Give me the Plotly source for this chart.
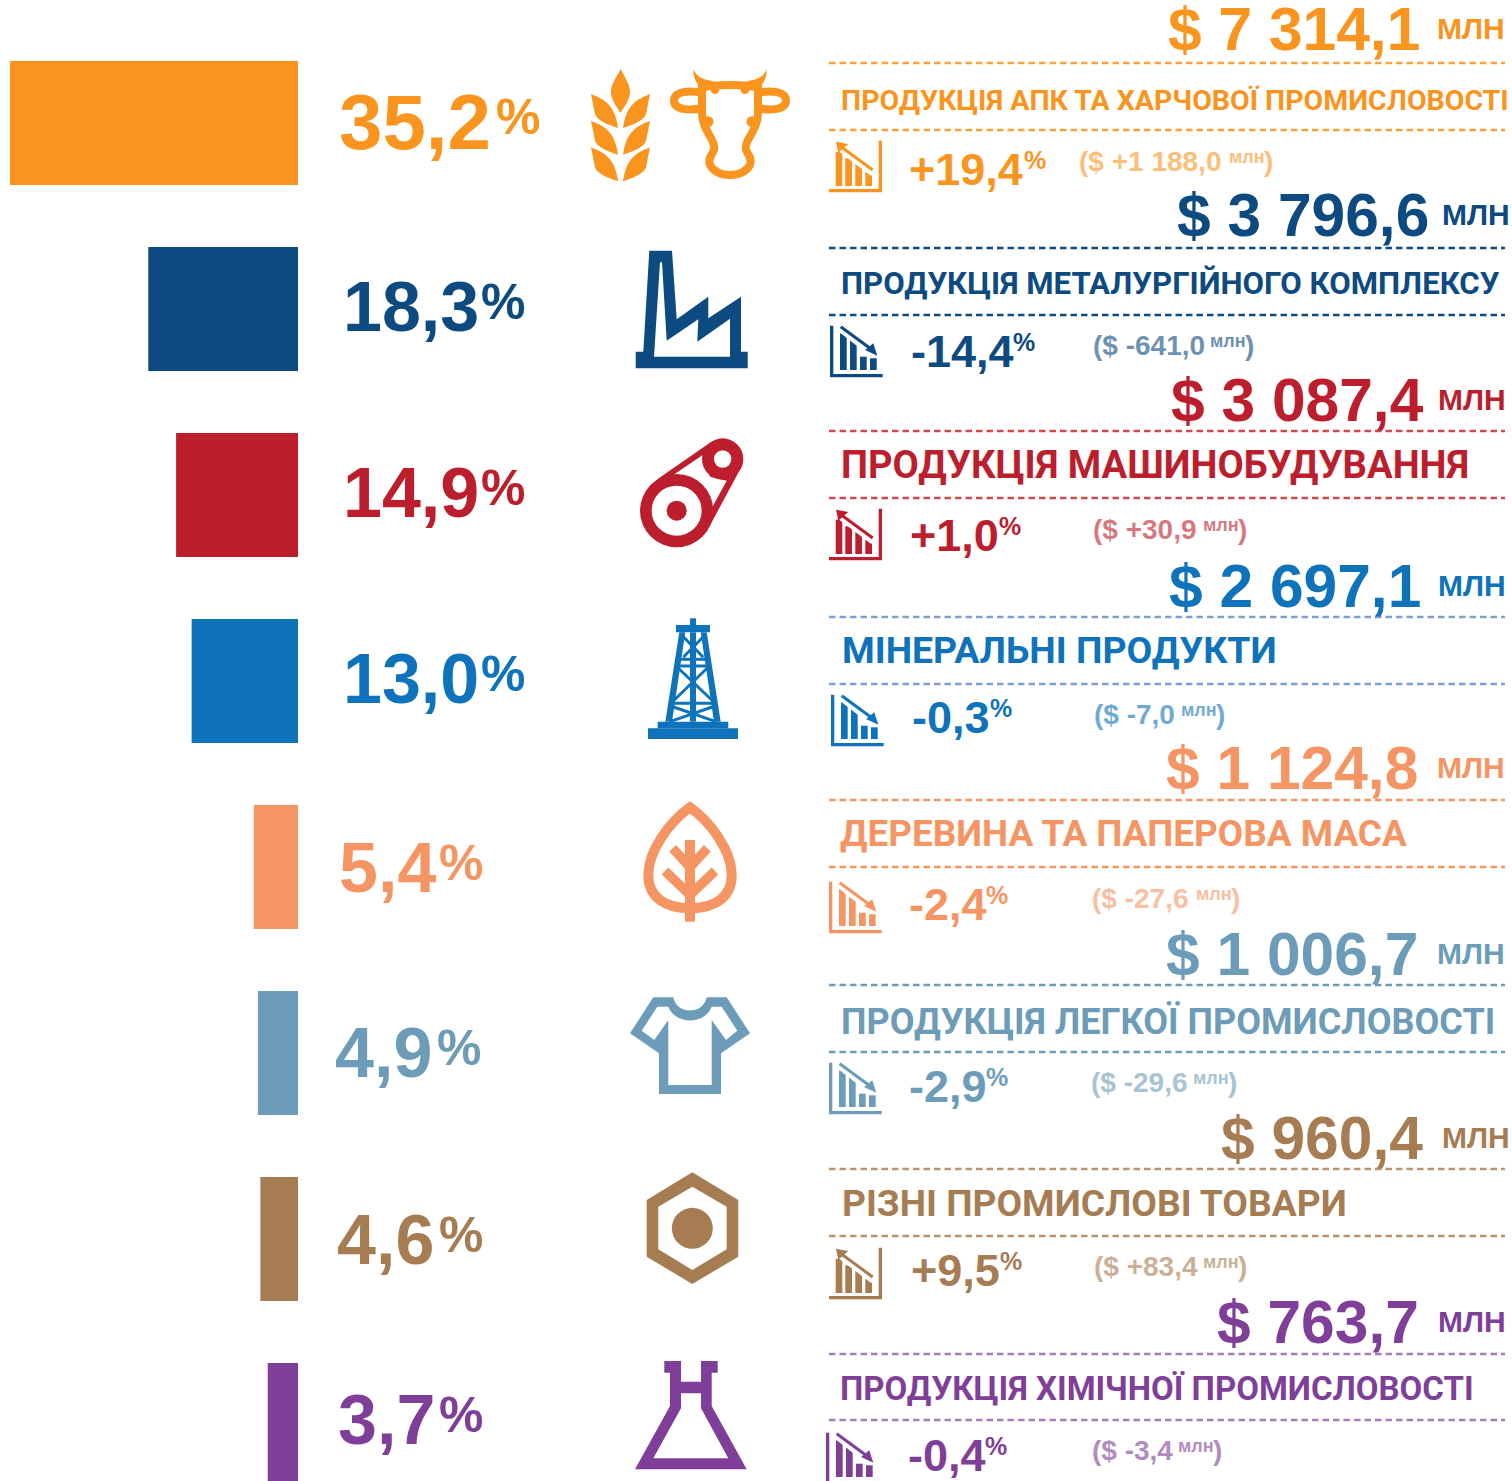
import plotly.graph_objects as go

# ---------- data ----------
titles = ["ПРОДУКЦІЯ АПК ТА ХАРЧОВОЇ ПРОМИСЛОВОСТІ", "ПРОДУКЦІЯ МЕТАЛУРГІЙНОГО КОМПЛЕКСУ",
          "ПРОДУКЦІЯ МАШИНОБУДУВАННЯ", "МІНЕРАЛЬНІ ПРОДУКТИ", "ДЕРЕВИНА ТА ПАПЕРОВА МАСА",
          "ПРОДУКЦІЯ ЛЕГКОЇ ПРОМИСЛОВОСТІ", "РІЗНІ ПРОМИСЛОВІ ТОВАРИ", "ПРОДУКЦІЯ ХІМІЧНОЇ ПРОМИСЛОВОСТІ"]
shares = [35.2, 18.3, 14.9, 13.0, 5.4, 4.9, 4.6, 3.7]
share_labels = ["35,2", "18,3", "14,9", "13,0", "5,4", "4,9", "4,6", "3,7"]
values = ["$ 7 314,1", "$ 3 796,6", "$ 3 087,4", "$ 2 697,1", "$ 1 124,8", "$ 1 006,7", "$ 960,4", "$ 763,7"]
changes = ["+19,4", "-14,4", "+1,0", "-0,3", "-2,4", "-2,9", "+9,5", "-0,4"]
deltas = ["+1 188,0", "-641,0", "+30,9", "-7,0", "-27,6", "-29,6", "+83,4", "-3,4"]

# ---------- style / layout ----------
W, H = 1512, 1481
colors = ["#F9951F", "#0C4A80", "#BC1E2D", "#0F73BB", "#F59563", "#6D9CB8", "#A67C52", "#7F3F98"]
rule_colors = ["#F9A33F", "#0C4A80", "#CF4A50", "#7E9FD4", "#F59563", "#6D9CB8", "#B8936D", "#A67DB8"]
FONT = "Liberation Sans"
TITLE_FONT = "Roboto"
share_size = [78, 70, 70, 70, 70, 70, 70, 70]
share_x = [338, 342, 342, 342, 338, 334, 336, 337]
pct_x = [495, 480, 480, 480, 438, 436, 438, 438]
share_y = [122, 307, 493, 679, 868, 1053, 1240, 1420]
value_r = [1421, 1430, 1425, 1422, 1419, 1419, 1424, 1420]
value_y = [29, 215, 400, 586, 768, 954, 1138, 1322]
mln_x = [1436, 1441, 1437, 1437, 1436, 1436, 1441, 1437]
line_y = [(63, 130), (248, 315), (431, 498), (617, 684), (800, 867), (985, 1052), (1169, 1236), (1354, 1420)]
title_x = [840, 840, 840, 841, 839, 840, 841, 839]
title_y = [100, 283, 465, 650, 833, 1022, 1203, 1388]
title_size = [28.5, 31.2, 38.2, 37.4, 36.9, 36.0, 37.2, 33.0]
change_x = [908, 910, 909, 911, 908, 908, 910, 907]
change_y = [169, 351, 535, 717, 904, 1086, 1270, 1455]
cpct_x = [1023, 1012, 998, 989, 985, 985, 999, 984]
delta_x = [1078, 1092, 1092, 1093, 1091, 1090, 1093, 1091]
delta_r = [1273, 1254, 1247, 1225, 1240, 1237, 1247, 1222]
delta_y = [161, 345, 529, 714, 898, 1082, 1266, 1450]
icon_off = [(0, 0), (0, 0), (0, 368), (1, 369), (-1, 556), (-1, 737), (0, 1107), (-4, 1107)]

shapes, annos = [], []


def px_shape(**kw):
    kw.setdefault("xref", "x2")
    kw.setdefault("yref", "y2")
    shapes.append(kw)


def path_of(pts, ox, oy, s=3.0):
    return "M" + "L".join(f"{ox + x / s:.1f},{oy + y / s:.1f}" for x, y in pts) + "Z"


def fill(d, c):
    px_shape(type="path", path=d, fillcolor=c, line=dict(width=0), fillrule="evenodd")


def stroke(d, c, w, f=None):
    px_shape(type="path", path=d, line=dict(color=c, width=w), fillcolor=f or "rgba(0,0,0,0)")


def circle(cx, cy, r, c):
    px_shape(type="circle", x0=cx - r, x1=cx + r, y0=cy - r, y1=cy + r, fillcolor=c, line=dict(width=0))


def text(x, y, s, size, c, anchor="left", family=FONT, opacity=1):
    annos.append(dict(x=x, y=y, xref="x2", yref="y2", text=s, showarrow=False, xanchor=anchor, yanchor="middle",
                      align=anchor, opacity=opacity, borderpad=0,
                      font=dict(family=family, size=size, color=c, weight=700)))


# ---------- icons ----------
def wheat(c):
    fill("M620.7,69 C616,78 611,84 611,92 C611,100 617,107 620.7,113 C624,107 630,100 630,92 C630,84 625,78 620.7,69Z", c)
    for dy in (0, 26.7, 53.3):
        fill(f"M591,{94 + dy} C606,{100 + dy} 615,{106 + dy} 618,{128 + dy} C606,{124 + dy} 597,{120 + dy} 595,{114 + dy}Z", c)
        fill(f"M650,{94 + dy} C635,{100 + dy} 626,{106 + dy} 623,{128 + dy} C635,{124 + dy} 644,{120 + dy} 646,{114 + dy}Z", c)


def cow(c):
    stroke("M702,88 C712,84 748,84 758,88 L758,113 C758,125 752,132 748,140 C745,146 745,149 747,152 "
           "C751,158 751,163 750,165 C746,172 738,175 730,175 C722,175 714,172 710,165 C709,163 709,158 713,152 "
           "C715,149 715,146 712,140 C708,132 702,125 702,113Z", c, 8)
    for cx, cy, r in [(715, 89.5, 4.5), (745, 89.5, 4.5), (708, 121.7, 5.5), (752, 121.7, 5.5)]:
        circle(cx, cy, r, c)
    fill("M693.3,69.3 C697,78 705,80 713,81 L703,92 C697,84 693,78 693.3,69.3Z", c)
    fill("M766.7,69.3 C763,78 755,80 747,81 L757,92 C763,84 767,78 766.7,69.3Z", c)
    stroke("M702,93 C690,90 674,91 674,100.5 C674,110 690,111 702,108", c, 8)
    stroke("M758,93 C770,90 786,91 786,100.5 C786,110 770,111 758,108", c, 8)


def factory(c):
    ox, oy = 580, 50
    fill(path_of([(208, 602), (276, 602), (290, 808), (385, 740), (385, 805), (483, 740), (483, 905), (503, 905),
                  (503, 955), (167, 955), (167, 905), (190, 905)], ox, oy) +
         path_of([(240, 637), (246, 637), (260, 872), (355, 808), (352, 875), (450, 806), (450, 920), (222, 920)], ox, oy), c)


def pulley(c):
    ox, oy = 620, 420
    P = lambda x, y: (ox + x / 3, oy + y / 3)
    fill(path_of([(112, 178), (272, 67), (355, 158), (267, 322)], ox, oy), c)
    fill(path_of([(150, 172), (248, 105), (270, 170), (320, 182), (275, 265), (220, 220)], ox, oy), "white")
    circle(*P(170, 272), 110 / 3, c)
    circle(*P(170, 272), 75 / 3, "white")
    circle(*P(170, 272), 30 / 3, c)
    circle(*P(308, 117), 62 / 3, c)
    circle(*P(308, 117), 26 / 3, "white")


def derrick(c):
    ox, oy = 620, 420
    for r in [[(84, 925), (354, 925), (354, 957), (84, 957)], [(113, 905), (325, 905), (325, 925), (113, 925)],
              [(168, 615), (270, 615), (270, 637), (168, 637)], [(210, 595), (228, 595), (228, 615), (210, 615)],
              [(178, 637), (196, 637), (156, 905), (136, 905)], [(242, 637), (260, 637), (302, 905), (282, 905)],
              [(210, 637), (228, 637), (228, 905), (210, 905)]]:
        fill(path_of(r, ox, oy), c)
    for a, b in [((190, 650), (250, 712)), ((250, 650), (190, 712)), ((175, 718), (262, 718)),
                 ((170, 738), (268, 738)), ((168, 738), (275, 840)), ((268, 738), (163, 840)), ((160, 850), (278, 850)),
                 ((150, 905), (285, 858)), ((288, 905), (152, 858))]:
        stroke(path_of([a, b], ox, oy)[:-1], c, 3)


def leaf(c):
    ox, oy = 620, 790
    Q = lambda x, y: f"{ox + x / 3:.1f},{oy + y / 3:.1f}"
    stroke(f"M{Q(210, 52)} C{Q(270, 95)} {Q(335, 180)} {Q(335, 255)} C{Q(335, 325)} {Q(280, 355)} {Q(210, 355)} "
           f"C{Q(140, 355)} {Q(85, 325)} {Q(85, 255)} C{Q(85, 180)} {Q(150, 95)} {Q(210, 52)}Z", c, 10)
    fill(path_of([(195, 150), (225, 150), (225, 395), (195, 395)], ox, oy), c)
    for a, b in [((210, 315), (135, 243)), ((210, 315), (285, 243)), ((210, 232), (158, 175)), ((210, 232), (262, 175))]:
        stroke(path_of([a, b], ox, oy)[:-1], c, 9.5)


def shirt(c):
    ox, oy = 620, 790
    Q = lambda x, y: f"{ox + x / 3:.1f},{oy + y / 3:.1f}"
    outer = (f"M{Q(100, 622)} L{Q(160, 622)} C{Q(170, 675)} {Q(250, 675)} {Q(260, 622)} L{Q(320, 622)} L{Q(390, 730)} "
             f"L{Q(303, 790)} L{Q(303, 912)} L{Q(117, 912)} L{Q(117, 790)} L{Q(30, 730)}Z")
    inner = (f"M{Q(112, 650)} L{Q(145, 650)} C{Q(165, 705)} {Q(255, 705)} {Q(275, 650)} L{Q(305, 650)} L{Q(352, 722)} "
             f"L{Q(318, 750)} L{Q(275, 690)} L{Q(275, 885)} L{Q(145, 885)} L{Q(145, 690)} L{Q(103, 750)} L{Q(65, 722)}Z")
    fill(outer + inner, c)


def nut(c):
    ox, oy = 620, 1160
    fill(path_of([(217, 37), (355, 120), (355, 290), (217, 372), (80, 290), (80, 120)], ox, oy) +
         path_of([(217, 80), (320, 140), (320, 268), (217, 330), (115, 268), (115, 140)], ox, oy), c)
    circle(ox + 217 / 3, oy + 205 / 3, 20.5, c)


def flask(c):
    ox, oy = 620, 1160
    fill(path_of([(133, 603), (183, 603), (183, 665), (243, 665), (243, 603), (293, 603), (293, 638), (275, 638),
                  (275, 738), (380, 928), (45, 928), (150, 738), (150, 638), (133, 638)], ox, oy) +
         path_of([(183, 700), (243, 700), (243, 745), (325, 895), (100, 895), (183, 745)], ox, oy), c)


def trend_up(c, dx, dy):
    ox, oy = 820 + dx, 130 + dy
    fill(path_of([(176, 32), (186, 32), (186, 187), (27, 187), (27, 177), (176, 177)], ox, oy), c)
    for x, top in [(47, 65), (76, 85), (106, 100), (136, 125)]:
        fill(path_of([(x, top), (x + 20, top), (x + 20, 168), (x, 168)], ox, oy), c)
    stroke(path_of([(60, 58), (158, 132)], ox, oy)[:-1], "white", 5)
    stroke(path_of([(60, 48), (158, 120)], ox, oy)[:-1], c, 3)
    fill(path_of([(48, 35), (85, 42), (55, 68)], ox, oy), c)


def trend_down(c, dx, dy):
    ox, oy = 820 + dx, 315 + dy
    fill(path_of([(30, 32), (40, 32), (40, 177), (188, 177), (188, 187), (30, 187)], ox, oy), c)
    for x, top in [(60, 55), (90, 75), (120, 125), (150, 130)]:
        fill(path_of([(x, top), (x + 20, top), (x + 20, 165), (x, 165)], ox, oy), c)
    stroke(path_of([(62, 45), (155, 118)], ox, oy)[:-1], "white", 5)
    stroke(path_of([(62, 35), (150, 100)], ox, oy)[:-1], c, 3)
    fill(path_of([(172, 122), (135, 105), (160, 85)], ox, oy), c)


wheat(colors[0]); cow(colors[0]); factory(colors[1]); pulley(colors[2]); derrick(colors[3])
leaf(colors[4]); shirt(colors[5]); nut(colors[6]); flask(colors[7])

# ---------- text / rules ----------
for i, c in enumerate(colors):
    text(share_x[i], share_y[i], share_labels[i], share_size[i], c)
    text(pct_x[i], share_y[i] - 5, "%", 50, c)
    text(value_r[i], value_y[i], values[i], 60.5, c, anchor="right")
    text(mln_x[i], value_y[i] - 1, "МЛН", 30, c)
    text(title_x[i], title_y[i], titles[i], title_size[i], c, family=TITLE_FONT)
    text(change_x[i], change_y[i], changes[i], 45, c)
    text(cpct_x[i], change_y[i] - 9, "%", 25, c)
    text(delta_x[i], delta_y[i], f"($ {deltas[i]}", 28, c, opacity=0.6)
    text(delta_r[i] - 7, delta_y[i] - 4, "млн", 18, c, anchor="right", opacity=0.6)
    text(delta_r[i] + 1, delta_y[i], ")", 28, c, anchor="right", opacity=0.6)
    for ly in line_y[i]:
        px_shape(type="line", x0=829, x1=1505, y0=ly, y1=ly, line=dict(color=rule_colors[i], width=2.5, dash="6.5px,4px"))
    dx, dy = icon_off[i]
    (trend_up if changes[i].startswith("+") else trend_down)(c, dx, dy)

# ---------- figure ----------
fig = go.Figure()
fig.add_trace(go.Bar(x=shares, y=titles, orientation="h", marker=dict(color=colors, line=dict(width=0)),
                     hoverinfo="skip", showlegend=False))
fig.add_trace(go.Scatter(x=[], y=[], xaxis="x2", yaxis="y2", showlegend=False, hoverinfo="skip"))
PX_PER_PCT = 288 / 35.2
STEP, FIRST = 186, 123
fig.update_layout(
    width=W, height=H, margin=dict(l=0, r=0, t=0, b=0), autosize=False,
    paper_bgcolor="white", plot_bgcolor="rgba(0,0,0,0)", bargap=1 / 3, showlegend=False,
    xaxis=dict(domain=[0, 298 / W], range=[298 / PX_PER_PCT, 0], visible=False, fixedrange=True),
    yaxis=dict(domain=[0, 1], type="category", range=[(H - FIRST) / STEP, -FIRST / STEP], visible=False, fixedrange=True),
    xaxis2=dict(domain=[0, 1], range=[0, W], visible=False, anchor="y2", fixedrange=True),
    yaxis2=dict(domain=[0, 1], range=[H, 0], visible=False, anchor="x2", fixedrange=True),
    shapes=shapes, annotations=annos,
)
fig.write_html("out.html", config=dict(displayModeBar=False),
               post_script="document.body.style.margin='0';document.body.style.overflow='hidden';")
